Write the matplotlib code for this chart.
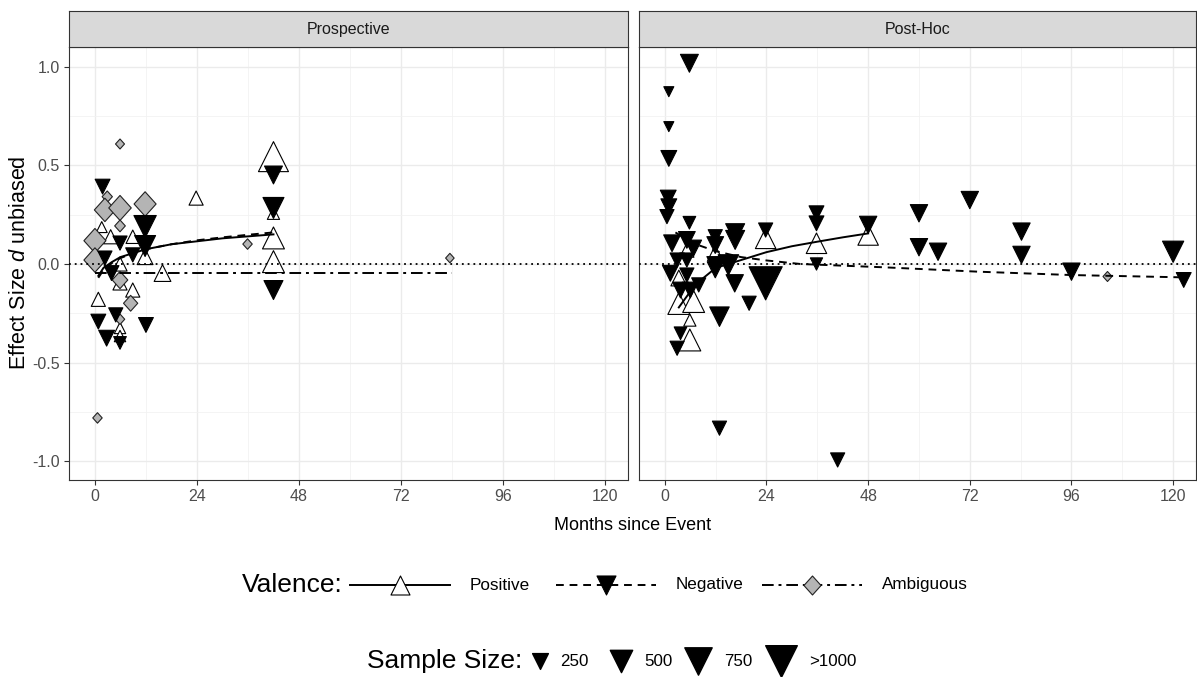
import numpy as np
import matplotlib
matplotlib.use("Agg")
import matplotlib.pyplot as plt
from matplotlib.path import Path

plt.rcParams['font.family'] = ['Liberation Sans Narrow', 'Liberation Sans', 'DejaVu Sans']
plt.rcParams['mathtext.fontset'] = 'custom'
plt.rcParams['mathtext.it'] = 'Liberation Sans:italic'
plt.rcParams['mathtext.rm'] = 'Liberation Sans'

# (months, effect size d, sample size)
pro_pos = [(42, 0.544, 900), (42, 0.257, 150), (42, 0.132, 480), (42, 0.012, 480),
           (23.8, 0.334, 200), (15.9, -0.046, 280), (1.6, 0.187, 120), (3.7, 0.138, 200),
           (8.9, 0.138, 180), (11.8, 0.037, 250), (5.9, 0.0, 200), (5.9, -0.096, 200),
           (8.9, -0.132, 200), (0.8, -0.179, 200), (5.9, -0.324, 130), (5.9, -0.365, 130)]
pro_neg = [(42, 0.451, 320), (42, 0.284, 440), (42, -0.132, 360), (1.8, 0.392, 220),
           (11.8, 0.189, 500), (11.8, 0.091, 440), (5.9, 0.106, 200), (8.9, 0.046, 200),
           (2.35, 0.03, 200), (3.9, -0.046, 220), (0.8, -0.292, 220), (2.75, -0.376, 250),
           (4.9, -0.258, 200), (5.9, -0.40, 160), (12, -0.309, 220)]
pro_amb = [(5.9, 0.608, 100), (35.9, 0.101, 110), (2.9, 0.341, 130), (2.35, 0.274, 550),
           (5.9, 0.284, 625), (11.8, 0.304, 600), (5.9, 0.193, 140), (0, 0.118, 600),
           (0, 0.02, 600), (5.9, -0.081, 300), (8.4, -0.199, 250), (5.9, -0.28, 110),
           (0.6, -0.78, 110), (83.5, 0.03, 90)]

post_pos = [(5.2, 0.07, 200), (3.3, -0.071, 250), (3.3, -0.2, 480), (6.8, -0.19, 480),
            (5.9, -0.284, 150), (5.9, -0.385, 480), (11.9, 0.054, 250), (23.8, 0.13, 420),
            (35.8, 0.105, 420), (48, 0.147, 420)]
post_neg = [(5.8, 1.017, 320), (0.94, 0.873, 100), (0.94, 0.696, 100), (0.94, 0.535, 250),
            (0.8, 0.334, 250), (0.94, 0.29, 250), (0.5, 0.24, 200), (5.8, 0.209, 160),
            (1.7, 0.105, 280), (5.2, 0.122, 280), (6.8, 0.081, 250), (2.9, 0.02, 200),
            (5.2, 0.02, 200), (1.3, -0.047, 250), (5.2, -0.056, 200), (3.7, -0.132, 250),
            (6.0, -0.132, 250), (8.0, -0.106, 200), (3.7, -0.351, 160), (2.9, -0.427, 200),
            (11.9, 0.138, 200), (11.9, 0.096, 280), (11.9, -0.005, 280), (11.9, -0.03, 250),
            (16.6, 0.156, 360), (16.6, 0.122, 360), (15.0, -0.005, 420), (16.5, -0.098, 300),
            (19.9, -0.199, 200), (12.9, -0.267, 380), (12.9, -0.832, 200), (23.8, 0.172, 200),
            (23.8, -0.098, 1100), (35.8, 0.257, 220), (35.8, 0.206, 220), (35.8, 0.0, 150),
            (48, 0.198, 300), (40.8, -0.993, 200), (60, 0.257, 300), (60, 0.085, 300),
            (64.5, 0.062, 300), (72, 0.324, 300), (84.2, 0.164, 300), (84.2, 0.046, 300),
            (96, -0.039, 300), (120, 0.062, 450), (122.5, -0.081, 220)]
post_amb = [(104.3, -0.059, 100)]

# fitted trend lines
pro_pos_fit_x = [0.8, 2, 4, 6, 9, 12, 18, 24, 30, 36, 42]
pro_pos_fit_y = [-0.06, -0.02, 0.01, 0.035, 0.055, 0.075, 0.10, 0.115, 0.13, 0.14, 0.15]
pro_neg_fit_x = [0.8, 2, 4, 6, 9, 12, 18, 24, 30, 36, 42]
pro_neg_fit_y = [-0.07, -0.03, 0.005, 0.03, 0.055, 0.075, 0.10, 0.12, 0.135, 0.148, 0.16]
pro_amb_fit_x = [0, 84]
pro_amb_fit_y = [-0.045, -0.045]
post_pos_fit_x = [3.3, 6, 8, 12, 15, 18, 24, 30, 36, 42, 48]
post_pos_fit_y = [-0.22, -0.14, -0.09, -0.02, 0.0, 0.02, 0.06, 0.09, 0.113, 0.135, 0.155]
post_neg_fit_x = [2.5, 4, 8, 12, 18, 24, 32, 52, 74, 96, 123]
post_neg_fit_y = [0.16, 0.14, 0.095, 0.065, 0.035, 0.018, 0.0, -0.017, -0.039, -0.056, -0.068]

panels = ["Prospective", "Post-Hoc"]
x_ticks = [0, 24, 48, 72, 96, 120]
y_ticks = [-1.0, -0.5, 0.0, 0.5, 1.0]
size_levels = [250, 500, 750, 1000]
size_labels = ["250", "500", "750", ">1000"]
valence_labels = ["Positive", "Negative", "Ambiguous"]

W, H = 1197, 677
fig = plt.figure(figsize=(W / 100, H / 100), dpi=100)

diamond = Path([(0, 1), (0.9, 0), (0, -1), (-0.9, 0), (0, 1)],
               [Path.MOVETO, Path.LINETO, Path.LINETO, Path.LINETO, Path.CLOSEPOLY])
styles = {
    "pos": dict(marker="^", facecolor="white", edgecolor="black"),
    "neg": dict(marker="v", facecolor="black", edgecolor="black"),
    "amb": dict(marker=diamond, facecolor="#B4B4B4", edgecolor="#222222"),
}
dash = (0, (4, 3))
dashdot = (0, (6, 2.5, 1.5, 2.5))


def msize(n):
    w = np.sqrt(np.clip(np.asarray(n, dtype=float), 0, 1100))  # pixels
    return (w * 0.72) ** 2


def px_axes(x0, y0, x1, y1):
    return fig.add_axes([x0 / W, 1 - y1 / H, (x1 - x0) / W, (y1 - y0) / H])


def draw_points(ax, pts, key):
    a = np.array(pts)
    ax.scatter(a[:, 0], a[:, 1], s=msize(a[:, 2]), linewidths=0.8, zorder=3, **styles[key])


boxes = [(69, 628), (639, 1196)]
top, bottom, strip_top = 47.3, 479.5, 11
axes = []
for i, (x0, x1) in enumerate(boxes):
    ax = px_axes(x0, top, x1, bottom)
    ax.set_xlim(-6.1, 125.4)
    ax.set_ylim(-1.092, 1.098)
    ax.set_xticks(x_ticks)
    ax.set_xticks([12, 36, 60, 84, 108], minor=True)
    ax.set_yticks(y_ticks)
    ax.set_yticks([-0.75, -0.25, 0.25, 0.75], minor=True)
    ax.grid(which="major", color="#EBEBEB", lw=1.0, zorder=0)
    ax.grid(which="minor", color="#F2F2F2", lw=0.6, zorder=0)
    ax.set_axisbelow(True)
    for sp in ax.spines.values():
        sp.set_color("#333333")
        sp.set_linewidth(0.8)
    ax.tick_params(which="major", length=3.5, width=0.8, color="#333333",
                   labelcolor="#4D4D4D", labelsize=11.5, pad=3)
    ax.tick_params(which="minor", length=0)
    ax.set_xticklabels([str(t) for t in x_ticks])
    if i == 0:
        ax.set_yticklabels(["%.1f" % t for t in y_ticks])
    else:
        ax.tick_params(axis="y", which="both", left=False, labelleft=False)
    ax.axhline(0, color="black", ls=(0, (1, 2.2)), lw=1.3, zorder=4)

    st = px_axes(x0, strip_top, x1, top)
    st.set_xticks([])
    st.set_yticks([])
    st.set_facecolor("#D9D9D9")
    for sp in st.spines.values():
        sp.set_color("#333333")
        sp.set_linewidth(0.8)
    st.text(0.5, 0.5, panels[i], ha="center", va="center", fontsize=11.5,
            color="#1A1A1A", transform=st.transAxes)
    axes.append(ax)

ax0, ax1 = axes
draw_points(ax0, pro_pos, "pos")
draw_points(ax0, pro_amb, "amb")
draw_points(ax0, pro_neg, "neg")
ax0.plot(pro_pos_fit_x, pro_pos_fit_y, color="black", lw=1.4, zorder=5)
ax0.plot(pro_neg_fit_x, pro_neg_fit_y, color="black", lw=1.4, ls=dash, zorder=5)
ax0.plot(pro_amb_fit_x, pro_amb_fit_y, color="black", lw=1.4, ls=dashdot, zorder=5)

draw_points(ax1, post_pos, "pos")
draw_points(ax1, post_amb, "amb")
draw_points(ax1, post_neg, "neg")
ax1.plot(post_pos_fit_x, post_pos_fit_y, color="black", lw=1.4, zorder=5)
ax1.plot(post_neg_fit_x, post_neg_fit_y, color="black", lw=1.4, ls=dash, zorder=5)

# axis titles
fig.text(633 / W, 1 - 525 / H, "Months since Event", ha="center", va="center", fontsize=13)
fig.text(19.5 / W, 1 - 263 / H, r"Effect Size $\it{d}$ unbiased", ha="center", va="center",
         rotation=90, fontsize=15.5, family="Liberation Sans")

# legends, drawn in pixel space
lax = fig.add_axes([0, 0, 1, 1])
lax.set_xlim(0, W)
lax.set_ylim(H, 0)
lax.axis("off")
lax.patch.set_alpha(0)

vy = 585
lax.text(343, vy, "Valence:", ha="right", va="center", fontsize=19)
key_x = [400, 606, 812]
for k, key, lab, ls in zip(key_x, ["pos", "neg", "amb"], valence_labels, ["-", dash, dashdot]):
    lax.plot([k - 50, k + 50], [vy, vy], color="black", lw=1.4, ls=ls)
    lax.scatter([k], [vy], s=(19 * 0.72) ** 2, linewidths=0.8, zorder=3, **styles[key])
    lax.text(k + 70, vy, lab, ha="left", va="center", fontsize=12.3)

sy = 661
lax.text(522, sy, "Sample Size:", ha="right", va="center", fontsize=19)
size_x = [540, 621, 698, 781]
for k, n, lab in zip(size_x, size_levels, size_labels):
    lax.scatter([k], [sy], s=msize(n), **styles["neg"])
    lax.text(k + 0.5 * np.sqrt(n) + 12, sy, lab, ha="left", va="center", fontsize=12.2)

fig.savefig("out.png", dpi=100)
